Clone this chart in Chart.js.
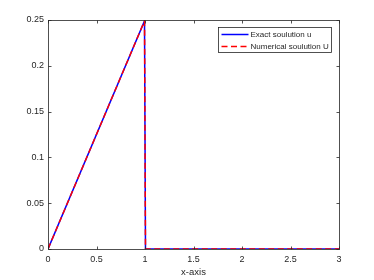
<!DOCTYPE html>
<html lang="en">
<head>
  <meta charset="UTF-8">
  <title>Exact vs numerical solution</title>
  <style>
    body {
      margin: 0;
      background-color: #ffffff;
    }
    canvas {
      display: block;
    }
  </style>
</head>
<body>
  <canvas id="solChart" width="374" height="280"></canvas>

  <script src="https://cdn.jsdelivr.net/npm/chart.js"></script>
  <script>
    // data
    const xExact = [0, 0.995, 1.005, 3];
    const uExact = [0, 0.249, 0, 0];
    const xNum = [0, 0.995, 1.005, 3];
    const uNum = [0, 0.249, 0, 0];
    const xTicks = [0, 0.5, 1, 1.5, 2, 2.5, 3];
    const yTicks = [0, 0.05, 0.1, 0.15, 0.2, 0.25];
    const seriesNames = ['Exact soulution u', 'Numerical soulution U'];

    const axisColor = '#262626';
    const tickFont = { family: 'Liberation Sans, Arial, sans-serif', size: 9 };

    // box around the axes with inward tick marks, like matlab
    const boxPlugin = {
      id: 'box',
      afterDraw(chart) {
        const c = chart.ctx;
        const a = chart.chartArea;
        const sx = chart.scales.x, sy = chart.scales.y;
        const L = Math.round(a.left) + 0.5, R = Math.round(a.right) + 0.5;
        const T = Math.round(a.top) + 0.5, B = Math.round(a.bottom) + 0.5;
        c.save();
        c.strokeStyle = axisColor;
        c.lineWidth = 0.8;
        c.strokeRect(L, T, R - L, B - T);
        c.beginPath();
        xTicks.forEach(v => {
          const px = Math.round(sx.getPixelForValue(v)) + 0.5;
          c.moveTo(px, B); c.lineTo(px, B - 3);
          c.moveTo(px, T); c.lineTo(px, T + 3);
        });
        yTicks.forEach(v => {
          const py = Math.round(sy.getPixelForValue(v)) + 0.5;
          c.moveTo(L, py); c.lineTo(L + 3, py);
          c.moveTo(R, py); c.lineTo(R - 3, py);
        });
        c.stroke();
        c.restore();
      }
    };

    // legend box in the upper right corner of the axes
    const legendPlugin = {
      id: 'boxLegend',
      afterDraw(chart) {
        const c = chart.ctx;
        const a = chart.chartArea;
        const bx = Math.round(a.right) - 120.5, by = Math.round(a.top) + 7.5;
        const bw = 113, bh = 25;
        c.save();
        c.fillStyle = '#ffffff';
        c.fillRect(bx, by, bw, bh);
        c.strokeStyle = axisColor;
        c.lineWidth = 0.8;
        c.strokeRect(bx, by, bw, bh);
        chart.data.datasets.forEach((ds, i) => {
          const y = by + 7 + i * 12;
          c.strokeStyle = ds.borderColor;
          c.lineWidth = ds.borderWidth;
          c.setLineDash(ds.borderDash || []);
          c.beginPath();
          c.moveTo(bx + 3, y);
          c.lineTo(bx + 30, y);
          c.stroke();
          c.setLineDash([]);
          c.fillStyle = axisColor;
          c.font = '8px Liberation Sans, Arial, sans-serif';
          c.textBaseline = 'middle';
          c.fillText(ds.label, bx + 32, y);
        });
        c.restore();
      }
    };

    const ctx = document.getElementById('solChart').getContext('2d');

    new Chart(ctx, {
      type: 'scatter',
      data: {
        datasets: [
          {
            label: seriesNames[0],
            data: xExact.map((x, i) => ({ x: x, y: uExact[i] })),
            showLine: true,
            borderColor: '#0000ff',
            borderWidth: 1.5,
            pointRadius: 0,
            fill: false,
            order: 1
          },
          {
            label: seriesNames[1],
            data: xNum.map((x, i) => ({ x: x, y: uNum[i] })),
            showLine: true,
            borderColor: '#ff0000',
            borderWidth: 1.5,
            borderDash: [6, 3.5],
            pointRadius: 0,
            fill: false,
            order: 0
          }
        ]
      },
      options: {
        responsive: false,
        animation: false,
        layout: {
          padding: { top: 20, right: 35, bottom: 0, left: 0 }
        },
        plugins: {
          legend: { display: false },
          tooltip: { enabled: false }
        },
        scales: {
          x: {
            type: 'linear',
            min: 0,
            max: 3,
            afterBuildTicks: s => { s.ticks = xTicks.map(v => ({ value: v })); },
            afterFit: s => { s.height = 31; },
            grid: { display: false, drawTicks: false },
            border: { display: false },
            ticks: {
              color: axisColor,
              font: tickFont,
              padding: 5,
              maxRotation: 0,
              callback: v => String(v)
            },
            title: {
              display: true,
              text: 'x-axis',
              color: axisColor,
              font: { family: 'Liberation Sans, Arial, sans-serif', size: 9.5 },
              padding: { top: 1, bottom: 2 }
            }
          },
          y: {
            type: 'linear',
            min: 0,
            max: 0.25,
            afterBuildTicks: s => { s.ticks = yTicks.map(v => ({ value: v })); },
            afterFit: s => { s.width = 48; },
            grid: { display: false, drawTicks: false },
            border: { display: false },
            ticks: {
              color: axisColor,
              font: tickFont,
              padding: 4,
              callback: v => String(v)
            }
          }
        }
      },
      plugins: [boxPlugin, legendPlugin]
    });
  </script>
</body>
</html>
